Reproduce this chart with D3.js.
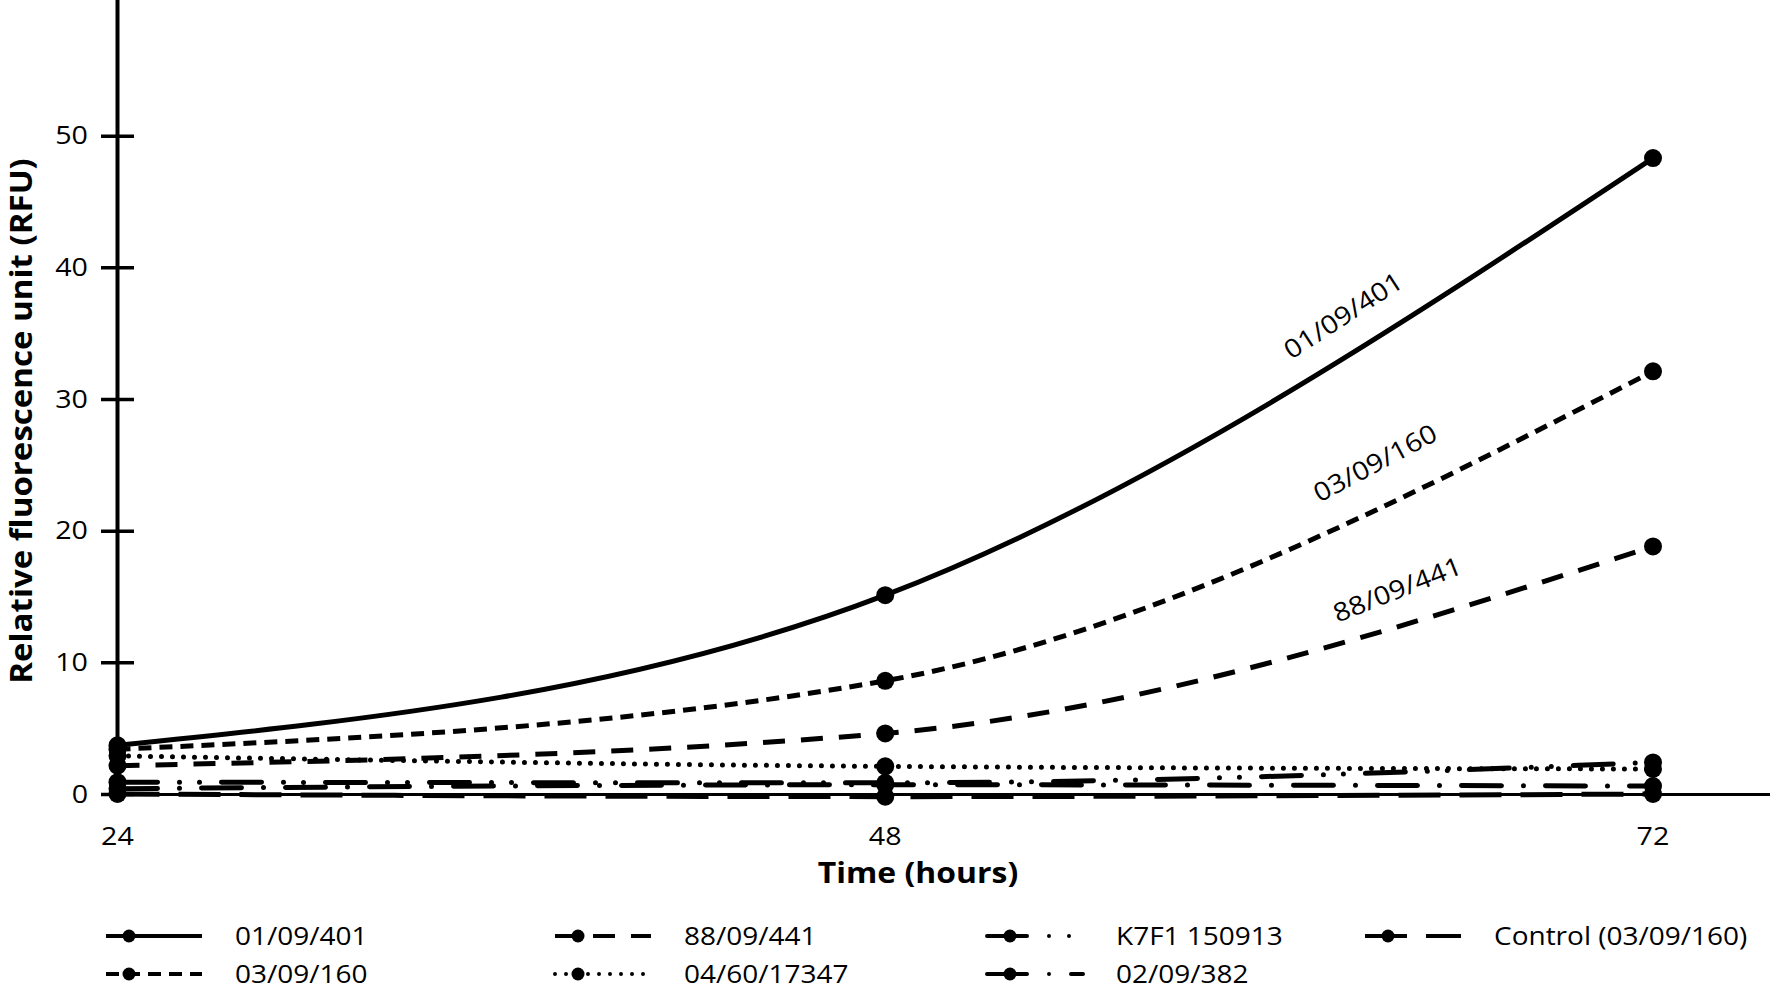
<!DOCTYPE html>
<html><head><meta charset="utf-8">
<script src="https://cdn.jsdelivr.net/npm/d3@7"></script>
<style>
body{margin:0;background:#fff}
text{font-family:"Open Sans","Noto Sans",sans-serif;fill:#000}
</style>
</head><body>
<svg id="chart" width="1772" height="991"></svg>
<script>
// ---- data ----
const hours = [24, 48, 72];
const seriesNames = ["01/09/401", "03/09/160", "88/09/441", "04/60/17347", "K7F1 150913", "02/09/382", "Control (03/09/160)"];
const values0109401 = [3.7, 15.1, 48.3];
const values0309160 = [3.4, 8.6, 32.1];
const values8809441 = [2.15, 4.6, 18.8];
const values046017347 = [2.9, 2.1, 1.9];
const valuesK7F1 = [0.9, 0.85, 2.4];
const values0209382 = [0.4, 0.7, 0.6];
const valuesControl = [0.0, -0.2, 0.0];
const yTickValues = [0, 10, 20, 30, 40, 50];
const xTickValues = [24, 48, 72];
const xTitle = "Time (hours)";
const yTitle = "Relative fluorescence unit (RFU)";
// in-plot labels: series index, hour, value
const labelSeries = [0, 1, 2];
const labelHours = [62.3, 63.3, 64.0];
const labelValues = [36.4, 25.2, 15.6];
const labelAngles = [-33, -28, -21.5];
// legend layout: column, row for each series
const legendCol = [0, 0, 1, 1, 2, 2, 3];
const legendRow = [0, 1, 0, 1, 0, 1, 0];

const allValues = [values0109401, values0309160, values8809441, values046017347, valuesK7F1, values0209382, valuesControl];

// ---- styles ----
const styles = [
  {dash: null, cap: "butt"},
  {dash: "13 8", cap: "butt"},
  {dash: "22 16", cap: "butt"},
  {dash: "0 11", cap: "round"},
  {dash: "40 22 0 20 0 22", cap: "round"},
  {dash: "40 22 0 22", cap: "round"},
  {dash: "42 19", cap: "butt"}
];
const SX = 1.12; // horizontal stretch of lettering

const svg = d3.select("#chart");
const W = 1772, H = 991;

const x = d3.scaleLinear().domain([24, 72]).range([117.5, 1653]);
const y = d3.scaleLinear().domain([0, 60]).range([794, 4]);

// ---- axes ----
const yAxis = d3.axisLeft(y).tickValues(yTickValues).tickSizeInner(16.5).tickSizeOuter(0).tickPadding(12);
const gy = svg.append("g").attr("transform", `translate(${x(24)},0)`).call(yAxis);
gy.select(".domain").remove();
gy.selectAll(".tick line").attr("x1", -16.5).attr("x2", 16.5).attr("stroke", "#000").attr("stroke-width", 3.5);
gy.selectAll(".tick text")
  .attr("x", -29.5 / SX)
  .attr("transform", `scale(${SX},1)`)
  .style("font-size", "25.6px").style("font-family", '"Open Sans",sans-serif').attr("fill", "#000");

const xAxis = d3.axisBottom(x).tickValues(xTickValues).tickSize(0).tickPadding(33);
const gx = svg.append("g").attr("transform", `translate(0,${y(0)})`).call(xAxis);
gx.select(".domain").remove();
gx.selectAll(".tick text")
  .attr("transform", `scale(${SX},1)`)
  .style("font-size", "25.6px").style("font-family", '"Open Sans",sans-serif').attr("fill", "#000");
gx.selectAll(".tick").each(function(d){
  d3.select(this).attr("transform", `translate(${x(d)},0)`);
});

// axis lines
svg.append("line").attr("x1", x(24)).attr("x2", W - 2).attr("y1", y(0) + 0.5).attr("y2", y(0) + 0.5)
  .attr("stroke", "#000").attr("stroke-width", 3.2);
svg.append("line").attr("x1", x(24)).attr("x2", x(24)).attr("y1", 0).attr("y2", y(0) + 2)
  .attr("stroke", "#000").attr("stroke-width", 4);

// titles
svg.append("g").attr("transform", `translate(918,883) scale(${SX},1)`)
  .append("text").attr("text-anchor", "middle")
  .style("font-size", "28.5px").style("font-weight", "700").text(xTitle);
svg.append("g").attr("transform", `translate(32,421) rotate(-90) scale(${SX},1)`)
  .append("text").attr("text-anchor", "middle")
  .style("font-size", "29.5px").style("font-weight", "700").text(yTitle);

// ---- series ----
const line = d3.line().x((d, i) => x(hours[i])).y(d => y(d)).curve(d3.curveMonotoneX);
const order = [6, 5, 4, 3, 2, 1, 0];
order.forEach(si => {
  const vals = allValues[si];
  const st = styles[si];
  svg.append("path").datum(vals).attr("d", line)
    .attr("fill", "none").attr("stroke", "#000").attr("stroke-width", 5)
    .attr("stroke-linecap", st.cap)
    .attr("stroke-dasharray", st.dash);
});
order.forEach(si => {
  svg.append("g").selectAll("circle").data(allValues[si]).join("circle")
    .attr("cx", (d, i) => x(hours[i])).attr("cy", d => y(d)).attr("r", 9).attr("fill", "#000");
});

// in-plot labels
labelSeries.forEach((si, k) => {
  svg.append("g")
    .attr("transform", `translate(${x(labelHours[k])},${y(labelValues[k])}) rotate(${labelAngles[k]}) scale(${SX},1)`)
    .append("text").attr("text-anchor", "middle").attr("dominant-baseline", "central")
    .style("font-size", "25.6px").text(seriesNames[si]);
});

// ---- legend ----
const legMarkerX = [129, 578, 1010, 1388];
const legRowY = [936, 974];
seriesNames.forEach((name, si) => {
  const mx = legMarkerX[legendCol[si]];
  const ry = legRowY[legendRow[si]];
  const st = styles[si];
  const g = svg.append("g");
  g.append("line").attr("x1", mx - 23).attr("x2", mx + 73).attr("y1", ry).attr("y2", ry)
    .attr("stroke", "#000").attr("stroke-width", 4).attr("stroke-linecap", st.cap)
    .attr("stroke-dasharray", st.dash);
  g.append("circle").attr("cx", mx).attr("cy", ry).attr("r", 6.5).attr("fill", "#000");
  g.append("g").attr("transform", `translate(${mx + 106},${ry + 9}) scale(${SX},1)`)
    .append("text").style("font-size", "25px").text(name);
});
</script>
</body></html>
